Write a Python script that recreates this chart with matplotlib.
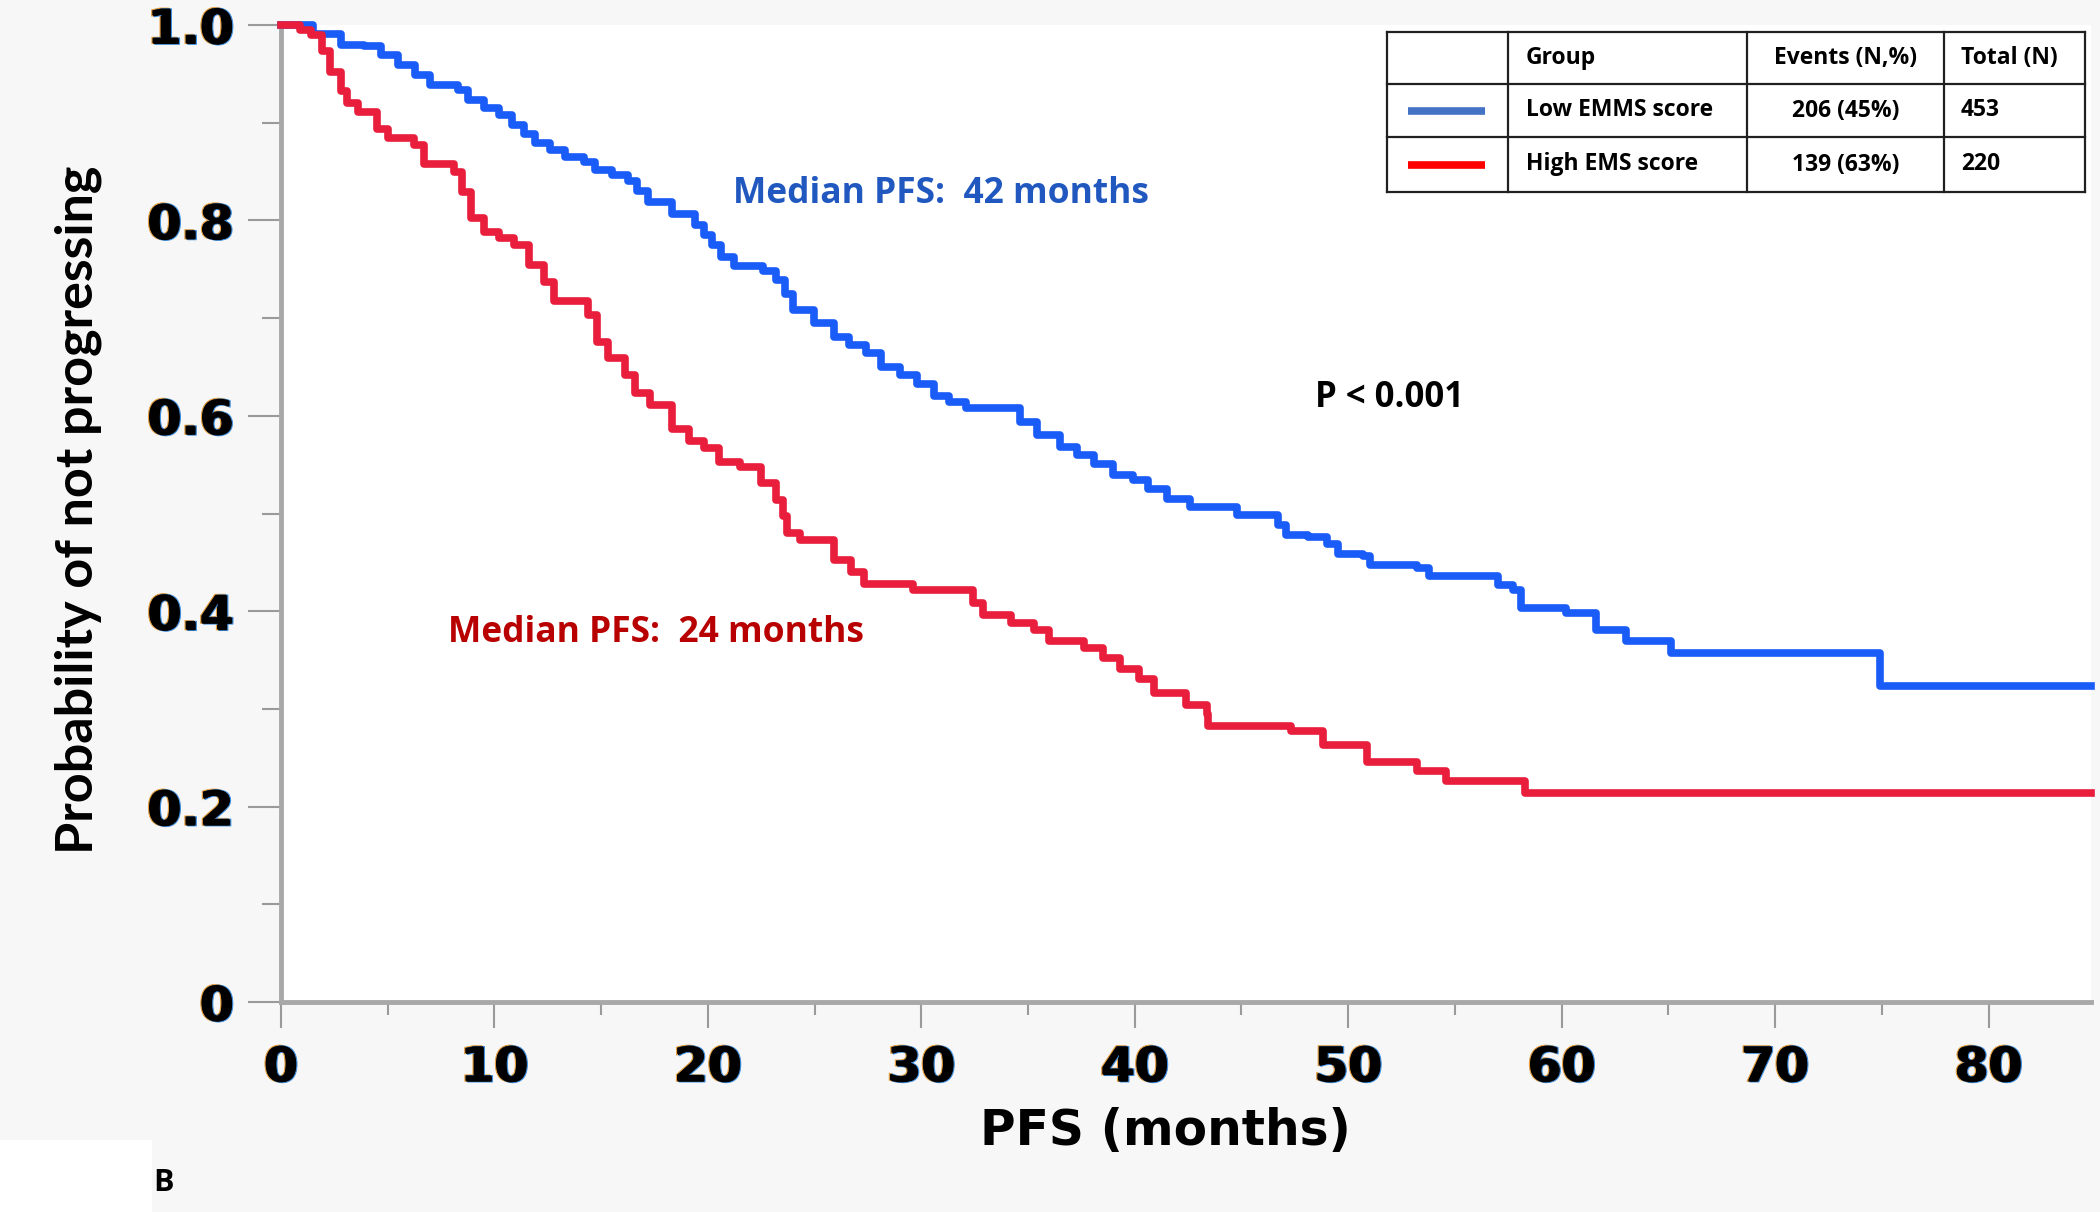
import matplotlib
matplotlib.use("Agg")
import matplotlib.pyplot as plt
import matplotlib.patheffects as pe

# Kaplan-Meier steps (months, probability)
low_t = [0, 1.5, 2.8, 3.9, 4.7, 5.5, 6.3, 7.0, 8.3, 8.75, 9.5, 10.2, 10.8, 11.4, 11.9,
         12.6, 13.3, 14.2, 14.7, 15.5, 16.25, 16.7, 17.2, 18.3, 19.4, 19.8, 20.2, 20.6,
         21.2, 22.6, 23.2, 23.6, 24.0, 24.95, 25.9, 26.6, 27.4, 28.1, 29.0, 29.8, 30.6,
         31.3, 32.1, 34.6, 35.4, 36.5, 37.3, 38.1, 39.0, 39.9, 40.6, 41.5, 42.6, 44.8,
         46.7, 47.1, 48.1, 49.0, 49.5, 50.7, 51.0, 53.2, 53.8, 57.0, 57.7, 58.1, 60.2,
         61.6, 63.0, 65.1, 74.9, 84.8]
low_s = [1.000, 0.991, 0.980, 0.978, 0.969, 0.959, 0.949, 0.939, 0.933, 0.923, 0.915,
         0.908, 0.898, 0.888, 0.879, 0.872, 0.865, 0.860, 0.852, 0.846, 0.840, 0.830,
         0.819, 0.807, 0.795, 0.785, 0.775, 0.763, 0.753, 0.748, 0.739, 0.725, 0.708,
         0.695, 0.681, 0.672, 0.664, 0.650, 0.642, 0.633, 0.620, 0.614, 0.608, 0.594,
         0.580, 0.568, 0.560, 0.551, 0.539, 0.534, 0.525, 0.515, 0.507, 0.498, 0.488,
         0.478, 0.476, 0.469, 0.459, 0.456, 0.447, 0.444, 0.436, 0.427, 0.422, 0.403,
         0.398, 0.381, 0.370, 0.357, 0.323, 0.323]

high_t = [0, 0.9, 1.4, 1.9, 2.3, 2.8, 3.1, 3.6, 4.5, 5.0, 6.25, 6.7, 8.1, 8.5, 8.9, 9.5,
          10.2, 10.9, 11.6, 12.3, 12.8, 14.4, 14.8, 15.3, 16.1, 16.6, 17.3, 18.3, 19.1,
          19.8, 20.5, 21.5, 22.5, 23.2, 23.5, 23.7, 24.3, 25.9, 26.7, 27.3, 29.6, 32.4,
          32.9, 34.2, 35.3, 36.0, 37.6, 38.5, 39.3, 40.2, 40.9, 42.4, 43.4, 43.45, 47.3,
          48.8, 50.9, 53.2, 54.6, 58.3, 84.8]
high_s = [1.000, 0.995, 0.990, 0.973, 0.952, 0.932, 0.920, 0.911, 0.894, 0.884, 0.877,
          0.858, 0.850, 0.829, 0.802, 0.788, 0.782, 0.775, 0.754, 0.737, 0.717, 0.703,
          0.676, 0.659, 0.642, 0.623, 0.611, 0.586, 0.574, 0.567, 0.553, 0.548, 0.531,
          0.514, 0.497, 0.480, 0.473, 0.452, 0.440, 0.428, 0.422, 0.408, 0.396, 0.388,
          0.381, 0.369, 0.362, 0.352, 0.341, 0.331, 0.316, 0.304, 0.295, 0.283, 0.277,
          0.263, 0.246, 0.236, 0.226, 0.214, 0.214]

x_ticks = [0, 10, 20, 30, 40, 50, 60, 70, 80]
y_ticks = [0, 0.2, 0.4, 0.6, 0.8, 1.0]
y_labels = ["0", "0.2", "0.4", "0.6", "0.8", "1.0"]

# legend table
tab_header = ["Group", "Events (N,%)", "Total (N)"]
tab_groups = ["Low EMMS score", "High EMS score"]
tab_events = ["206 (45%)", "139 (63%)"]
tab_totals = ["453", "220"]
tab_colors = ["#4472c4", "#ff0000"]

W, H = 2100, 1212
BG = "#f7f7f7"
BLUE = "#1a5cf7"
RED = "#e81e3c"

fig = plt.figure(figsize=(W / 100, H / 100), dpi=100, facecolor=BG)
ax = fig.add_axes([281 / W, 1 - 1002 / H, (2091 - 281) / W, (1002 - 25) / H])
ax.set_facecolor("white")

ax.step(low_t, low_s, where="post", color=BLUE, lw=5.5, clip_on=False, zorder=3)
ax.step(high_t, high_s, where="post", color=RED, lw=5.5, clip_on=False, zorder=3)

ax.set_xlim(0, 84.8)
ax.set_ylim(0, 1.0)
for s in ["top", "right"]:
    ax.spines[s].set_visible(False)
for s in ["left", "bottom"]:
    ax.spines[s].set_color("#a8a8a8")
    ax.spines[s].set_linewidth(3.5)

ax.set_xticks(x_ticks)
ax.set_xticks([5, 15, 25, 35, 45, 55, 65, 75], minor=True)
ax.set_yticks(y_ticks)
ax.set_yticklabels(y_labels)
ax.set_yticks([0.1, 0.3, 0.5, 0.7, 0.9], minor=True)

# slight colour fringing like the scanned original
fringe = [pe.Stroke(offset=(-1.0, 0.3), linewidth=0.8, foreground="#e8a040"),
          pe.Stroke(offset=(1.0, -0.2), linewidth=0.8, foreground="#3f8fe0"),
          pe.Normal()]
ax.tick_params(axis="x", which="major", length=19, width=1.5, color="#9a9a9a", pad=11)
ax.tick_params(axis="x", which="minor", length=9, width=1.5, color="#9a9a9a")
ax.tick_params(axis="y", which="major", length=24, width=1.5, color="#9a9a9a", pad=10)
ax.tick_params(axis="y", which="minor", length=14, width=1.5, color="#9a9a9a")
for lab in ax.get_xticklabels() + ax.get_yticklabels():
    lab.set_fontsize(35)
    lab.set_fontweight("bold")
    lab.set_family("DejaVu Sans")
    lab.set_path_effects(fringe)

fig.text(78 / W, 1 - 510 / H, "Probability of not progressing", rotation=90,
         ha="center", va="center", fontsize=37.5, fontweight="bold",
         family=["Lato", "DejaVu Sans"])
fig.text(1165 / W, 1 - 1145 / H, "PFS (months)", ha="center", va="baseline",
         fontsize=35, fontweight="bold", family="DejaVu Sans")

fig.text(733 / W, 1 - 203 / H, "Median PFS:  42 months", ha="left", va="baseline",
         fontsize=25.5, fontweight="bold", color="#2158c0", family=["Open Sans", "DejaVu Sans"])
fig.text(448 / W, 1 - 642 / H, "Median PFS:  24 months", ha="left", va="baseline",
         fontsize=25.5, fontweight="bold", color="#b80000", family=["Open Sans", "DejaVu Sans"])
fig.text(1315 / W, 1 - 407 / H, "P < 0.001", ha="left", va="baseline",
         fontsize=25, fontweight="bold", color="black", family=["Open Sans", "DejaVu Sans"])

# table drawn in pixel-like coordinates
col_edges = [1387, 1508, 1747, 1944, 2085]
row_edges = [32, 84, 137, 192]
tab = fig.add_axes([col_edges[0] / W, 1 - row_edges[-1] / H,
                    (col_edges[-1] - col_edges[0]) / W, (row_edges[-1] - row_edges[0]) / H])
tab.set_xlim(col_edges[0], col_edges[-1])
tab.set_ylim(row_edges[-1], row_edges[0])
tab.axis("off")
tab.patch.set_alpha(0)
for x in col_edges:
    tab.plot([x, x], [row_edges[0], row_edges[-1]], color="#202020", lw=1.6, clip_on=False)
for y in row_edges:
    tab.plot([col_edges[0], col_edges[-1]], [y, y], color="#202020", lw=1.6, clip_on=False)

tfont = dict(fontsize=16.5, fontweight="bold", family=["Open Sans", "DejaVu Sans"], va="center")
hy = (row_edges[0] + row_edges[1]) / 2
tab.text(col_edges[1] + 18, hy, tab_header[0], ha="left", **tfont)
tab.text((col_edges[2] + col_edges[3]) / 2, hy, tab_header[1], ha="center", **tfont)
tab.text(col_edges[3] + 17, hy, tab_header[2], ha="left", **tfont)
for i in range(2):
    ry = (row_edges[i + 1] + row_edges[i + 2]) / 2
    tab.plot([col_edges[0] + 21, col_edges[0] + 98], [ry, ry], color=tab_colors[i], lw=5.5,
             solid_capstyle="butt")
    tab.text(col_edges[1] + 18, ry, tab_groups[i], ha="left", **tfont)
    tab.text((col_edges[2] + col_edges[3]) / 2, ry, tab_events[i], ha="center", **tfont)
    tab.text(col_edges[3] + 17, ry, tab_totals[i], ha="left", **tfont)

# panel letter box at bottom-left
fig.patches.append(plt.Rectangle((0, 0), 152 / W, 72 / H, transform=fig.transFigure,
                                 facecolor="white", edgecolor="none"))
fig.text(153 / W, 1 - 1191 / H, "B", ha="left", va="baseline", fontsize=22,
         fontweight="bold", family=["Open Sans", "DejaVu Sans"])

fig.savefig("out.png", dpi=100, facecolor=BG)
